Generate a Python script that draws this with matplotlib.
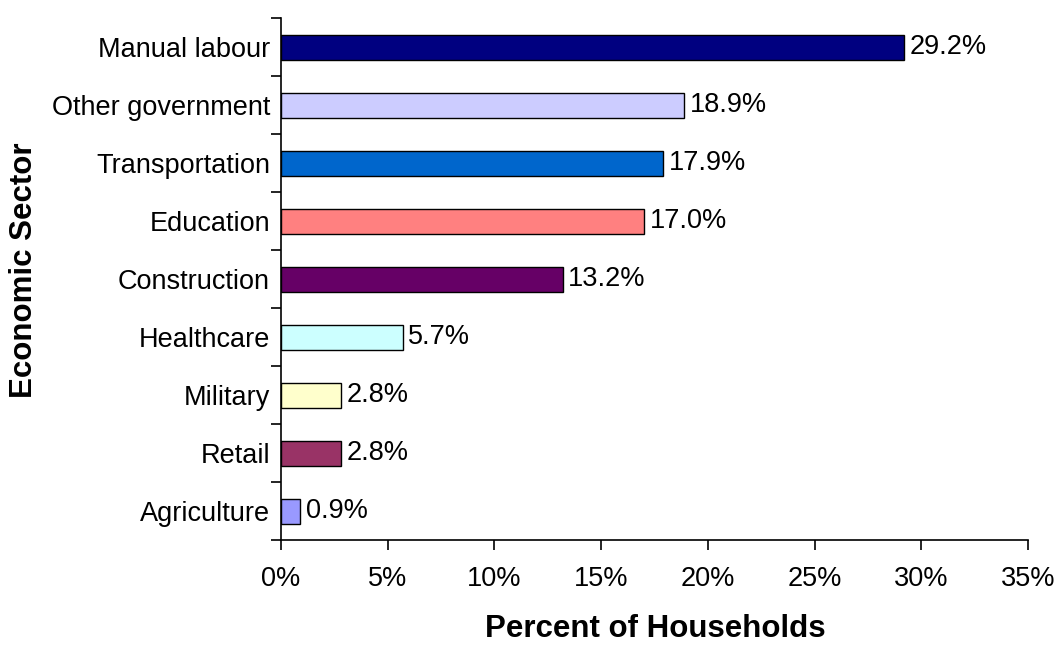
import matplotlib
matplotlib.use('Agg')
import matplotlib.pyplot as plt
import numpy as np

# Données
sectors = ['Agriculture', 'Retail', 'Military', 'Healthcare', 'Construction',
           'Education', 'Transportation', 'Other government', 'Manual labour']
percent = [0.9, 2.8, 2.8, 5.7, 13.2, 17.0, 17.9, 18.9, 29.2]
bar_colors = ['#9999FF', '#993366', '#FFFFCC', '#CCFFFF', '#660066',
              '#FF8080', '#0066CC', '#CCCCFF', '#000080']
x_ticks = [0, 5, 10, 15, 20, 25, 30, 35]

plt.rcParams['font.family'] = ['Liberation Sans', 'DejaVu Sans']

fig = plt.figure(figsize=(10.55, 6.46), dpi=100)
ax = fig.add_axes([0.2664, 0.164, 0.708, 0.808])

y = np.arange(len(sectors))
ax.barh(y, percent, height=0.43, color=bar_colors, edgecolor='black', linewidth=1)

# Étiquettes de valeurs
for yi, v in zip(y, percent):
    ax.annotate(f'{v:.1f}%', xy=(v, yi), xytext=(4, 0), textcoords='offset points',
                va='center', ha='left', fontsize=19.5)

ax.set_xlim(0, 35)
ax.set_ylim(-0.5, len(sectors) - 0.5)
ax.set_xticks(x_ticks)
ax.set_xticklabels([f'{t}%' for t in x_ticks], fontsize=19.5)
ax.set_yticks(y)
ax.set_yticklabels(sectors, fontsize=19.5)
ax.set_yticks(np.arange(len(sectors) + 1) - 0.5, minor=True)
ax.tick_params(axis='y', which='major', length=0, pad=8)
ax.tick_params(axis='y', which='minor', length=7, width=1.2, direction='out')
ax.tick_params(axis='x', length=7, width=1.2, direction='out', pad=12)

for s in ['top', 'right']:
    ax.spines[s].set_visible(False)
for s in ['left', 'bottom']:
    ax.spines[s].set_linewidth(1.2)

ax.set_xlabel('Percent of Households', fontsize=22.5, fontweight='bold')
ax.set_ylabel('Economic Sector', fontsize=22.5, fontweight='bold')
ax.xaxis.set_label_coords(0.501, -0.142)
ax.yaxis.set_label_coords(-0.324, 0.517)

fig.savefig('out.png', dpi=100)
